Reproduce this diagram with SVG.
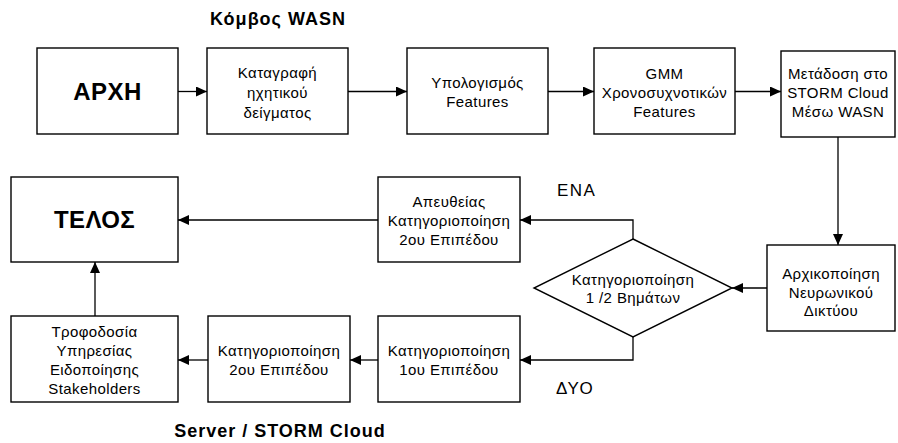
<svg xmlns="http://www.w3.org/2000/svg" width="898" height="443" viewBox="0 0 898 443">
<defs>
<marker id="ah" markerWidth="12" markerHeight="10" refX="11" refY="5" orient="auto" markerUnits="userSpaceOnUse">
<path d="M0,0 L11,5 L0,10 Z" fill="#000"/>
</marker>
<style>
.box{fill:#fff;stroke:#000;stroke-width:1.4}
.t{font-family:"Liberation Sans",Arial,sans-serif;font-size:15px;text-anchor:middle;fill:#000;letter-spacing:0.4px}
.big{font-family:"Liberation Sans",Arial,sans-serif;font-size:24px;font-weight:bold;text-anchor:middle;fill:#000;letter-spacing:0.4px}
.title{font-family:"Liberation Sans",Arial,sans-serif;font-size:18px;font-weight:bold;text-anchor:middle;fill:#000;letter-spacing:1px}
.lbl{font-family:"Liberation Sans",Arial,sans-serif;font-size:17px;fill:#000;letter-spacing:1.5px}
.c{fill:none;stroke:#000;stroke-width:1.3;marker-end:url(#ah)}
</style>
</defs>
<rect width="898" height="443" fill="#fff"/>
<text class="title" x="278" y="25">Κόμβος WASN</text>
<text class="title" x="280" y="437">Server / STORM Cloud</text>
<g id="start"><rect class="box" x="37" y="48" width="141" height="86"/><text class="big" x="107.5" y="99.5">ΑΡΧΗ</text></g>
<g id="record"><rect class="box" x="207" y="48" width="141" height="86"/><text class="t" x="277.5" y="78">Καταγραφή</text><text class="t" x="277.5" y="98">ηχητικού</text><text class="t" x="277.5" y="118">δείγματος</text></g>
<g id="features"><rect class="box" x="407" y="48" width="141" height="86"/><text class="t" x="477.5" y="88">Υπολογισμός</text><text class="t" x="477.5" y="107">Features</text></g>
<g id="gmm"><rect class="box" x="594" y="48" width="141" height="86"/><text class="t" x="664.5" y="79">GMM</text><text class="t" x="664.5" y="98">Χρονοσυχνοτικών</text><text class="t" x="664.5" y="117">Features</text></g>
<g id="transmit"><rect class="box" x="781" y="51" width="114" height="86"/><text class="t" x="838" y="79">Μετάδοση στο</text><text class="t" x="838" y="98">STORM Cloud</text><text class="t" x="838" y="117">Μέσω WASN</text></g>
<g id="init"><rect class="box" x="767" y="245" width="128" height="86"/><text class="t" x="831" y="279">Αρχικοποίηση</text><text class="t" x="831" y="298">Νευρωνικού</text><text class="t" x="831" y="316">Δικτύου</text></g>
<g id="decision"><polygon class="box" points="633,239 732,288 633,337 534,288"/><text class="t" x="633" y="285">Κατηγοριοποίηση</text><text class="t" x="633" y="303">1 /2 Βημάτων</text></g>
<g id="direct"><rect class="box" x="378" y="177" width="142" height="85"/><text class="t" x="449" y="207">Απευθείας</text><text class="t" x="449" y="226">Κατηγοριοποίηση</text><text class="t" x="449" y="245">2ου Επιπέδου</text></g>
<g id="end"><rect class="box" x="11" y="177" width="167" height="85"/><text class="big" x="94.5" y="228">ΤΕΛΟΣ</text></g>
<g id="level1"><rect class="box" x="378" y="316" width="142" height="86"/><text class="t" x="449" y="356">Κατηγοριοποίηση</text><text class="t" x="449" y="375">1ου Επιπέδου</text></g>
<g id="level2"><rect class="box" x="208" y="316" width="142" height="86"/><text class="t" x="279" y="356">Κατηγοριοποίηση</text><text class="t" x="279" y="375">2ου Επιπέδου</text></g>
<g id="notify"><rect class="box" x="11" y="316" width="167" height="86"/><text class="t" x="94.5" y="337">Τροφοδοσία</text><text class="t" x="94.5" y="356">Υπηρεσίας</text><text class="t" x="94.5" y="375">Ειδοποίησης</text><text class="t" x="94.5" y="394">Stakeholders</text></g>
<g id="labels"><text class="lbl" x="557" y="196">ΕΝΑ</text><text class="lbl" x="556" y="394">ΔΥΟ</text></g>
<g id="connectors">
<path class="c" d="M178,91.5 H207"/>
<path class="c" d="M348,91.5 H407"/>
<path class="c" d="M548,91.5 H594"/>
<path class="c" d="M735,91.5 H781"/>
<path class="c" d="M838,137 V245"/>
<path class="c" d="M767,288 H732"/>
<path class="c" d="M633,239 V220 H520"/>
<path class="c" d="M633,337 V360 H520"/>
<path class="c" d="M378,220 H178"/>
<path class="c" d="M378,360 H350"/>
<path class="c" d="M208,360 H178"/>
<path class="c" d="M95,316 V262"/>
</g>
</svg>
